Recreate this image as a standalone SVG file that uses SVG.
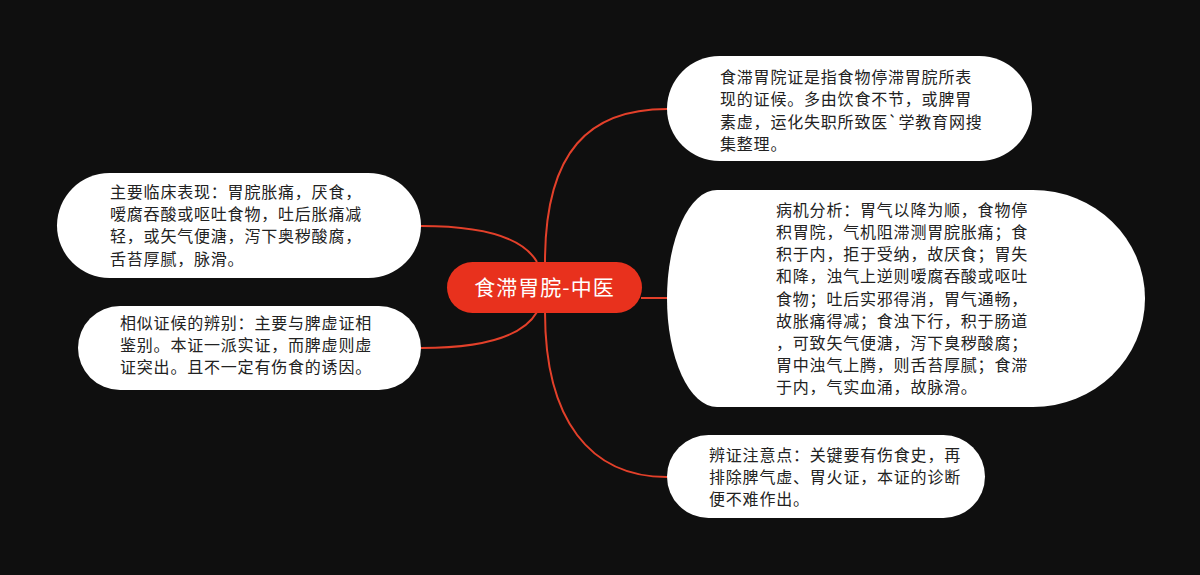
<svg xmlns="http://www.w3.org/2000/svg" width="1200" height="575" viewBox="0 0 1200 575">
<style>
.bg{fill:#0f0f0f}
.node{fill:#ffffff}
.root{fill:#e8311d}
.t{font-family:"Noto Sans CJK SC","Noto Sans",sans-serif;font-size:16px;letter-spacing:0.8px;fill:#222222}
.rt{font-family:"Noto Sans CJK SC","Noto Sans",sans-serif;font-size:21px;letter-spacing:1px;fill:#ffffff}
.c{fill:none;stroke:#e3402a;stroke-width:2}
</style>
<rect class="bg" x="0" y="0" width="1200" height="575"/>
<g id="connectors">
<path class="c" d="M537 262 C522 236 480 226 421 226"/>
<path class="c" d="M537 312 C522 338 480 348 421 348"/>
<path class="c" d="M545 262 C545 150 590 109 667 109"/>
<path class="c" d="M641 298 L667 298"/>
<path class="c" d="M545 312 C545 420 590 477 667 477"/>
</g>
<g id="root">
<rect class="root" x="447" y="262" width="195" height="51" rx="25.5"/>
<text class="rt" x="544.5" y="295" text-anchor="middle">食滞胃脘-中医</text>
</g>
<g id="n-left1">
<rect class="node" x="57" y="173" width="364" height="105" rx="52.5"/>
<text class="t"><tspan x="110" y="198">主要临床表现：胃脘胀痛，厌食，</tspan><tspan x="110" y="220">嗳腐吞酸或呕吐食物，吐后胀痛减</tspan><tspan x="110" y="242">轻，或矢气便溏，泻下奥秽酸腐，</tspan><tspan x="110" y="265">舌苔厚腻，脉滑。</tspan></text>
</g>
<g id="n-left2">
<rect class="node" x="78" y="306" width="343" height="84" rx="42"/>
<text class="t"><tspan x="120" y="329">相似证候的辨别：主要与脾虚证相</tspan><tspan x="120" y="351">鉴别。本证一派实证，而脾虚则虚</tspan><tspan x="120" y="373">证突出。且不一定有伤食的诱因。</tspan></text>
</g>
<g id="n-right1">
<rect class="node" x="667" y="56" width="365" height="105" rx="52.5"/>
<text class="t"><tspan x="720" y="83">食滞胃院证是指食物停滞胃脘所表</tspan><tspan x="720" y="105">现的证候。多由饮食不节，或脾胃</tspan><tspan x="720" y="128">素虚，运化失职所致医`学教育网搜</tspan><tspan x="720" y="150">集整理。</tspan></text>
</g>
<g id="n-right2">
<path class="node" d="M717 190 H1033 A112 108.5 0 0 1 1033 407 H717 A50 108.5 0 0 1 717 190 Z"/>
<text class="t"><tspan x="776" y="216">病机分析：胃气以降为顺，食物停</tspan><tspan x="776" y="238">积胃院，气机阻滞测胃脘胀痛；食</tspan><tspan x="776" y="260">积于内，拒于受纳，故厌食；胃失</tspan><tspan x="776" y="282">和降，浊气上逆则嗳腐吞酸或呕吐</tspan><tspan x="776" y="305">食物；吐后实邪得消，胃气通畅，</tspan><tspan x="776" y="327">故胀痛得减；食浊下行，积于肠道</tspan><tspan x="776" y="349">，可致矢气便溏，泻下臭秽酸腐；</tspan><tspan x="776" y="371">胃中浊气上腾，则舌苔厚腻；食滞</tspan><tspan x="776" y="393">于内，气实血涌，故脉滑。</tspan></text>
</g>
<g id="n-right3">
<rect class="node" x="667" y="435" width="318" height="83" rx="41.5"/>
<text class="t"><tspan x="709" y="461">辨证注意点：关键要有伤食史，再</tspan><tspan x="709" y="483">排除脾气虚、胃火证，本证的诊断</tspan><tspan x="709" y="505">便不难作出。</tspan></text>
</g>
</svg>
